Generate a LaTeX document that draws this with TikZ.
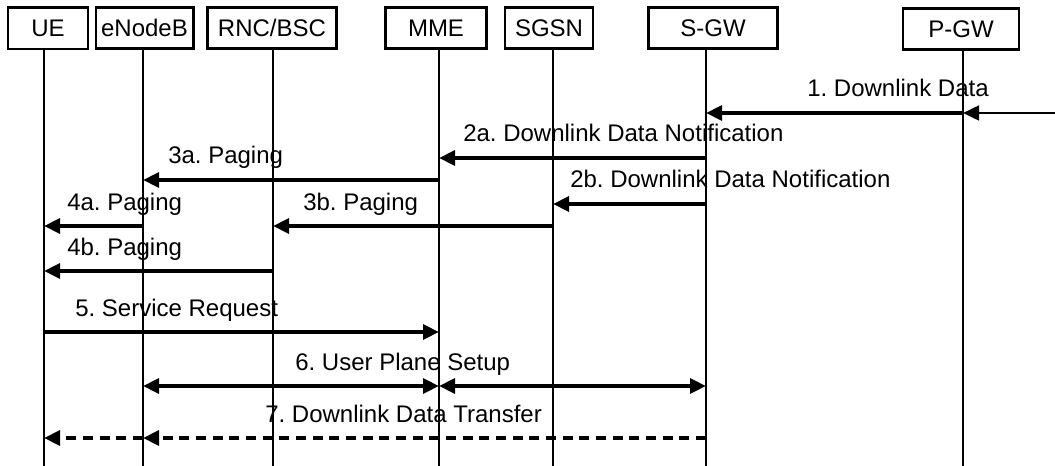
\documentclass[tikz,border=0pt]{standalone}
\usepackage{fontspec}
\setmainfont{Liberation Sans}
\usetikzlibrary{arrows.meta}
\tikzset{
  ent/.style={draw, line width=2pt, minimum height=31pt, inner sep=0pt},
  life/.style={line width=0.9pt},
  msg/.style={line width=3pt, -{Triangle[length=12pt,width=11pt]}},
  lbl/.style={anchor=base west, inner sep=0pt}
}
\begin{document}
\frenchspacing
\begin{tikzpicture}[x=0.75pt, y=-0.75pt, font=\fontsize{18}{21}\selectfont]
  \useasboundingbox (0,0) rectangle (1055,466);
  % entities
  \node[ent, minimum width=60pt] (UEbox) at (48,28.5) {UE};
  \node[ent, minimum width=73pt] (ENBbox) at (144.5,28) {eNodeB};
  \node[ent, minimum width=97pt] (RNCbox) at (272,28) {RNC/BSC};
  \node[ent, minimum width=76pt] (MMEbox) at (436,28) {MME};
  \node[ent, minimum width=66pt] (SGSNbox) at (549,28) {SGSN};
  \node[ent, minimum width=97pt] (SGWbox) at (713,28) {S-GW};
  \node[ent, minimum width=87pt] (PGWbox) at (961,29) {P-GW};
  % lifelines
  \coordinate (ue) at (44,0);
  \coordinate (enb) at (143,0);
  \coordinate (rnc) at (273,0);
  \coordinate (mme) at (439,0);
  \coordinate (sgsn) at (553,0);
  \coordinate (sgw) at (706,0);
  \coordinate (pgw) at (963,0);
  \foreach \e/\b in {ue/UEbox, enb/ENBbox, rnc/RNCbox, mme/MMEbox, sgsn/SGSNbox, sgw/SGWbox, pgw/PGWbox}
    \draw[life] (\e |- \b.south) -- (\e |- 0,466);
  % 1
  \coordinate (src) at (1055,113);
  \draw[msg, line width=2pt] (src) -- (pgw |- src);
  \draw[msg] (pgw |- src) -- (sgw |- src);
  \node[lbl] (l1) at (807,97) {1. Downlink Data};
  % 2a, 3a
  \draw[msg] (sgw |- 0,158) -- (mme |- 0,158);
  \node[lbl] (l2a) at (463,142) {2a. Downlink Data Notification};
  \draw[msg] (mme |- 0,180) -- (enb |- 0,180);
  \node[lbl] (l3a) at (168,164) {3a. Paging};
  % 2b
  \draw[msg] (sgw |- 0,204) -- (sgsn |- 0,204);
  \node[lbl] (l2b) at (570,188) {2b. Downlink Data Notification};
  % 4a, 3b
  \draw[msg] (enb |- 0,226) -- (ue |- 0,226);
  \node[lbl] (l4a) at (67,211) {4a. Paging};
  \draw[msg] (sgsn |- 0,226) -- (rnc |- 0,226);
  \node[lbl] (l3b) at (303,211) {3b. Paging};
  % 4b
  \draw[msg] (rnc |- 0,271) -- (ue |- 0,271);
  \node[lbl] (l4b) at (67,256) {4b. Paging};
  % 5
  \draw[msg] (ue |- 0,332) -- (mme |- 0,332);
  \node[lbl] (l5) at (75,316) {5. Service Request};
  % 6
  \draw[msg, {Triangle[length=12pt,width=11pt]}-{Triangle[length=12pt,width=11pt]}] (enb |- 0,386) -- (mme |- 0,386);
  \draw[msg, {Triangle[length=12pt,width=11pt]}-{Triangle[length=12pt,width=11pt]}] (mme |- 0,386) -- (sgw |- 0,386);
  \node[lbl] (l6) at (295,370) {6. User Plane Setup};
  % 7
  \draw[msg, dash pattern=on 7.5pt off 5pt] (sgw |- 0,438) -- (enb |- 0,438);
  \draw[msg, dash pattern=on 7.5pt off 5pt] (enb |- 0,438) -- (ue |- 0,438);
  \node[lbl] (l7) at (265,422) {7. Downlink Data Transfer};
\end{tikzpicture}
\end{document}
